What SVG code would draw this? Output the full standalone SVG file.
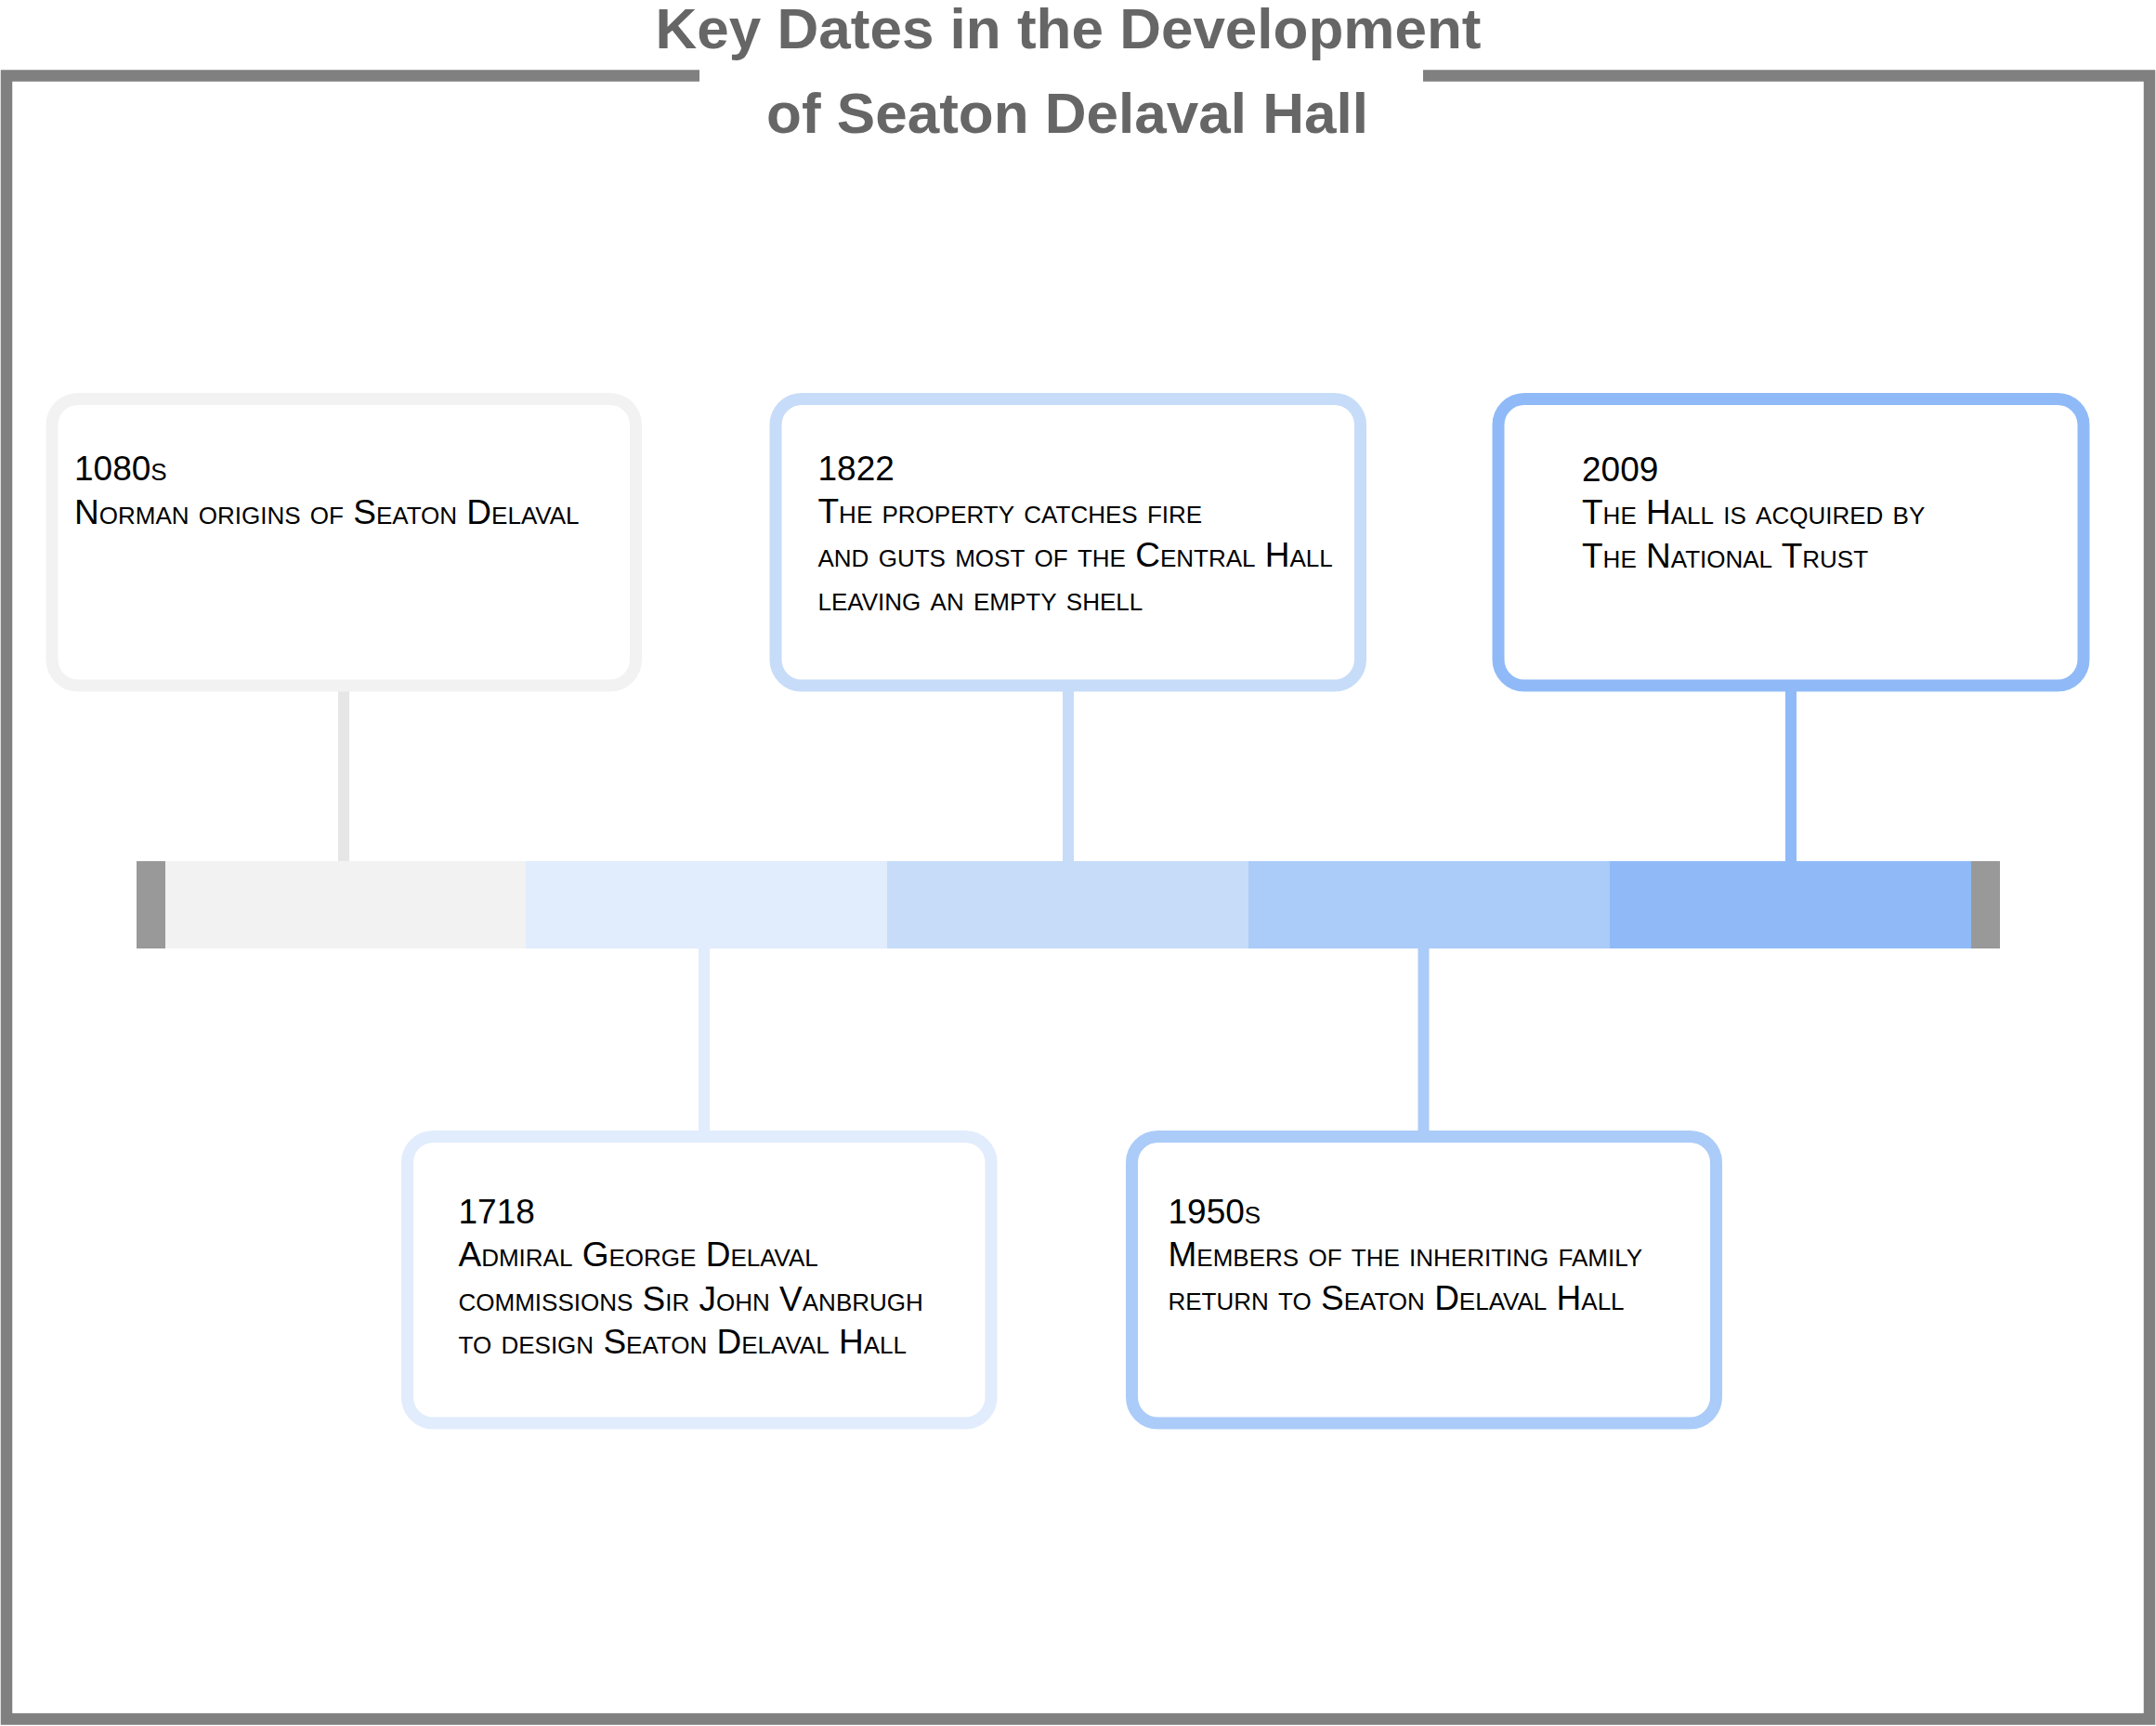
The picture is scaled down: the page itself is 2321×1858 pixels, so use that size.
<svg xmlns="http://www.w3.org/2000/svg" width="2321" height="1858" viewBox="0 0 2321 1858">
<style>
.title{font-family:"Liberation Sans",Arial,sans-serif;font-weight:bold;font-size:62px;fill:#666666;text-anchor:middle}
.lbl{font-family:"Liberation Sans",Arial,sans-serif;font-size:37px;font-variant:small-caps;fill:#000000}
.box{fill:#ffffff;stroke-width:13}
.conn{stroke-width:12;fill:none}
</style>
<rect x="0" y="0" width="2321" height="1858" fill="#ffffff"/>
<g id="frame">
<path d="M753,81.5 H7 V1850.5 H2314 V81.5 H1532" fill="none" stroke="#808080" stroke-width="12.5"/>
</g>
<g id="title">
<text class="title" x="1150" y="52">Key Dates in the Development</text>
<text class="title" x="1149" y="143">of Seaton Delaval Hall</text>
</g>
<g id="connectors">
<line class="conn" x1="370" y1="738" x2="370" y2="927" stroke="#e6e6e6"/>
<line class="conn" x1="1150" y1="738" x2="1150" y2="927" stroke="#c6dcf8"/>
<line class="conn" x1="1928" y1="738" x2="1928" y2="927" stroke="#8fbaf7"/>
<line class="conn" x1="758" y1="1021" x2="758" y2="1224" stroke="#e1ecfc"/>
<line class="conn" x1="1532.5" y1="1021" x2="1532.5" y2="1224" stroke="#abcbf8"/>
</g>
<g id="timeline">
<rect x="147" y="927" width="31" height="94" fill="#999999"/>
<rect x="178" y="927" width="389" height="94" fill="#f2f2f2"/>
<rect x="566" y="927" width="390" height="94" fill="#e1ecfc"/>
<rect x="955" y="927" width="390" height="94" fill="#c6dcf8"/>
<rect x="1344" y="927" width="390" height="94" fill="#abcbf8"/>
<rect x="1733" y="927" width="389" height="94" fill="#8fbaf7"/>
<rect x="2122" y="927" width="31" height="94" fill="#999999"/>
</g>
<g id="node-1080s">
<rect class="box" x="56" y="429.5" width="628.5" height="308.5" rx="28" stroke="#f2f2f2"/>
<text class="lbl" x="80" y="517">1080s</text>
<text class="lbl" x="80" y="564">Norman origins of Seaton Delaval</text>
</g>
<g id="node-1822">
<rect class="box" x="835" y="429.5" width="629.5" height="308.5" rx="28" stroke="#c6dcf8"/>
<text class="lbl" x="880.5" y="517">1822</text>
<text class="lbl" x="880.5" y="563">The property catches fire</text>
<text class="lbl" x="880.5" y="610">and guts most of the Central Hall</text>
<text class="lbl" x="880.5" y="657">leaving an empty shell</text>
</g>
<g id="node-2009">
<rect class="box" x="1613" y="429.5" width="630" height="308.5" rx="28" stroke="#8fbaf7"/>
<text class="lbl" x="1703" y="518">2009</text>
<text class="lbl" x="1703" y="564">The Hall is acquired by</text>
<text class="lbl" x="1703" y="611">The National Trust</text>
</g>
<g id="node-1718">
<rect class="box" x="438.5" y="1223.5" width="628.5" height="308.5" rx="28" stroke="#e1ecfc"/>
<text class="lbl" x="493.5" y="1317">1718</text>
<text class="lbl" x="493.5" y="1363">Admiral George Delaval</text>
<text class="lbl" x="493.5" y="1411">commissions Sir John Vanbrugh</text>
<text class="lbl" x="493.5" y="1457">to design Seaton Delaval Hall</text>
</g>
<g id="node-1950s">
<rect class="box" x="1218.5" y="1223.5" width="629" height="308.5" rx="28" stroke="#abcbf8"/>
<text class="lbl" x="1257.5" y="1317">1950s</text>
<text class="lbl" x="1257.5" y="1363">Members of the inheriting family</text>
<text class="lbl" x="1257.5" y="1410">return to Seaton Delaval Hall</text>
</g>
</svg>
